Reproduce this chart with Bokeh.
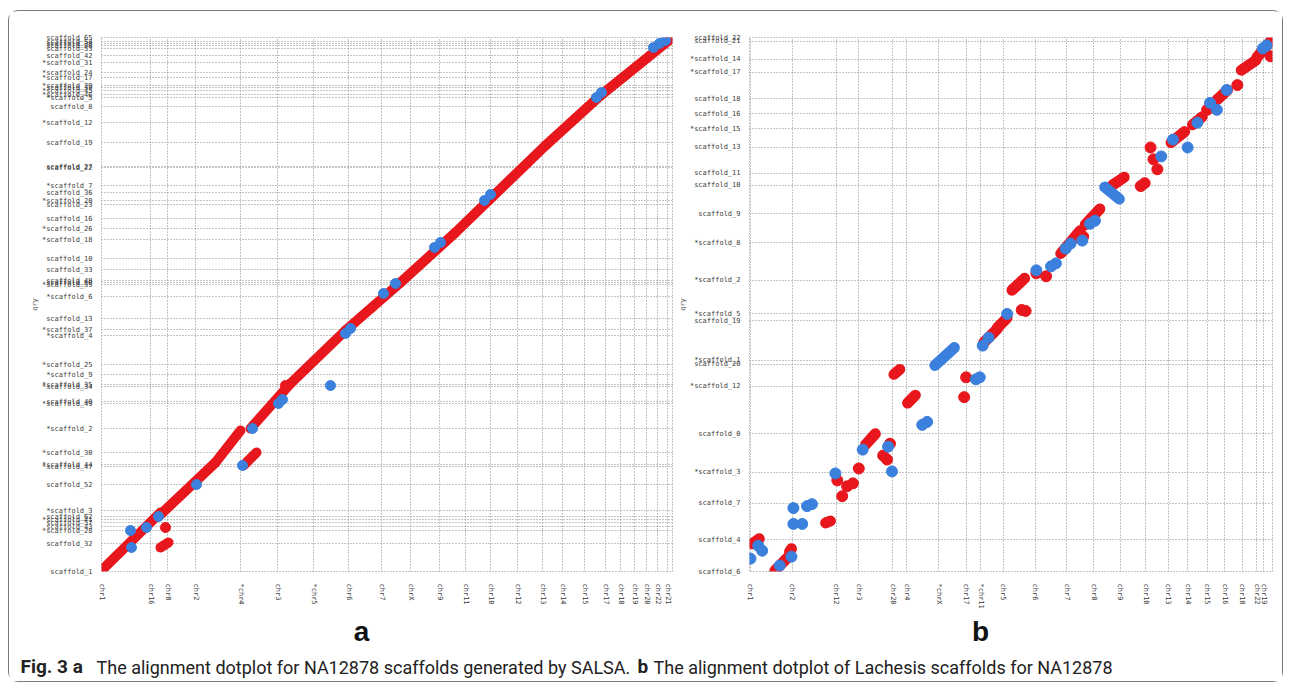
from bokeh.plotting import figure
from bokeh.layouts import column, row
from bokeh.models import Range1d, FixedTicker, Label, Spacer
from bokeh.embed import file_html
from bokeh.resources import INLINE

# ---------------- data: panel a (SALSA) ----------------
# reference sequence starts (x) and query scaffold starts (y), in plot units
a_x_ticks = [0, 49, 66, 94, 139, 176, 212, 247, 280, 309, 338, 364, 389, 416, 441, 461, 483, 504, 519, 533, 545, 556, 566]
a_x_labels = ["chr1", "chr16", "chr8", "chr2", "*chr4", "chr3", "*chr5", "chr6", "chr7", "chrX", "chr9", "chr11",
              "chr10", "chr12", "chr13", "chr14", "chr15", "chr17", "chr18", "chr19", "chr20", "chr22", "chr21"]
a_y_ticks = [0, 28, 41, 45, 49, 52, 55, 61, 87, 105, 107, 119, 143, 168, 170, 185, 187, 197, 207, 236, 242, 253,
             275, 287, 289, 291, 302, 313, 332, 343, 353, 367, 371, 379, 386, 404, 405, 429, 449, 465, 474, 477,
             481, 484, 486, 494, 499, 509, 516, 523, 526, 528, 530, 534]
a_y_labels = ["scaffold_1", "scaffold_32", "*scaffold_28", "scaffold_43", "scaffold_57", "*scaffold_41", "scaffold_62",
              "*scaffold_3", "scaffold_52", "*scaffold_47", "*scaffold_44", "*scaffold_30", "*scaffold_2", "*scaffold_49",
              "scaffold_40", "*scaffold_34", "*scaffold_35", "*scaffold_9", "*scaffold_25", "*scaffold_4", "*scaffold_37",
              "scaffold_13", "*scaffold_6", "*scaffold_55", "scaffold_50", "scaffold_48", "scaffold_33", "scaffold_10",
              "*scaffold_18", "*scaffold_26", "scaffold_16", "scaffold_23", "*scaffold_20", "scaffold_36", "*scaffold_7",
              "scaffold_22", "scaffold_27", "scaffold_19", "*scaffold_12", "scaffold_8", "*scaffold_5", "*scaffold_46",
              "*scaffold_45", "scaffold_39", "*scaffold_29", "*scaffold_17", "*scaffold_24", "*scaffold_31", "scaffold_42",
              "scaffold_53", "scaffold_58", "scaffold_38", "scaffold_54", "scaffold_65"]
a_x_max, a_y_max = 571, 534

# forward alignments (red): start/end of each aligned block
a_red_x0 = [0, 59, 114, 142, 149, 189, 244, 299, 354, 444, 499, 59]
a_red_y0 = [1, 57, 109, 106, 143, 188, 241, 289, 339, 426, 476, 24]
a_red_x1 = [59, 114, 139, 155, 189, 244, 299, 354, 444, 499, 571, 67]
a_red_y1 = [59, 109, 141, 119, 188, 241, 289, 339, 426, 476, 534, 29]
a_red_px = [64, 184]
a_red_py = [44, 186]
# reverse alignments (blue)
a_blue_x = [29, 30, 45, 57, 95, 141, 151, 177, 181, 229, 244, 249, 282, 294, 333, 339, 383, 389, 495, 500, 552, 558, 564]
a_blue_y = [41, 24, 44, 55, 87, 106, 143, 168, 172, 186, 238, 243, 278, 288, 324, 329, 371, 377, 474, 479, 524, 528, 531]

# ---------------- data: panel b (Lachesis) ----------------
b_x_ticks = [1, 44, 89, 112, 147, 161, 194, 222, 237, 260, 293, 325, 353, 380, 406, 429, 449, 469, 487, 505, 520, 527]
b_x_labels = ["chr1", "chr2", "chr12", "chr3", "chr20", "chr4", "*chrX", "chr17", "*chr11", "chr5", "chr6", "chr7",
              "chr8", "chr9", "chr10", "chr13", "chr14", "chr15", "chr16", "chr18", "chr22", "chr19"]
b_y_ticks = [0, 32, 69, 100, 139, 187, 209, 213, 253, 260, 294, 332, 361, 390, 402, 428, 447, 462, 477, 504, 517, 535, 539]
b_y_labels = ["scaffold_6", "scaffold_4", "scaffold_7", "*scaffold_3", "scaffold_0", "*scaffold_12", "scaffold_20",
              "*scaffold_1", "scaffold_19", "*scaffold_5", "*scaffold_2", "*scaffold_8", "scaffold_9", "scaffold_10",
              "scaffold_11", "scaffold_13", "*scaffold_15", "scaffold_16", "scaffold_18", "*scaffold_17", "*scaffold_14",
              "scaffold_21", "scaffold_22"]
b_x_max, b_y_max = 536, 539

b_red_x0 = [3, 26, 41, 78, 119, 148, 162, 240, 254, 269, 319, 344, 372, 432, 454, 479, 504, 520]
b_red_y0 = [28, 1, 20, 49, 128, 199, 170, 231, 246, 284, 321, 350, 390, 433, 451, 476, 506, 519]
b_red_x1 = [10, 39, 43, 83, 129, 154, 170, 254, 264, 282, 339, 359, 384, 446, 464, 490, 519, 534]
b_red_y1 = [33, 14, 23, 51, 139, 204, 178, 245, 256, 296, 344, 366, 398, 444, 459, 486, 516, 535]
b_red_px = [90, 95, 100, 106, 112, 137, 141, 144, 222, 220, 279, 283, 294, 304, 342, 401, 405, 411, 414, 418, 469, 500, 534]
b_red_py = [92, 76, 86, 89, 104, 117, 113, 129, 196, 176, 264, 263, 301, 298, 338, 389, 392, 428, 416, 406, 466, 491, 520]
b_blue_x0 = [190, 364]
b_blue_y0 = [208, 388]
b_blue_x1 = [210, 379]
b_blue_y1 = [226, 376]
b_blue_x = [1, 9, 13, 31, 43, 45, 45, 54, 59, 64, 88, 116, 142, 146, 177, 182, 232, 236, 239, 245, 264, 294, 309, 314,
            324, 329, 341, 349, 354, 422, 434, 449, 459, 472, 479, 489, 526, 530]
b_blue_y = [13, 26, 21, 6, 15, 48, 64, 48, 66, 68, 99, 123, 126, 101, 148, 151, 194, 196, 228, 236, 260, 304, 308, 311,
            326, 331, 334, 351, 354, 419, 436, 428, 453, 473, 466, 486, 528, 531]

RED = "#e8161d"
BLUE = "#3b80dc"
GRID = "#8a8a8a"
MONO = "DejaVu Sans Mono"


def style_panel(p, xt, xl, yt, yl):
    p.xaxis.ticker = FixedTicker(ticks=xt, minor_ticks=[])
    p.yaxis.ticker = FixedTicker(ticks=yt, minor_ticks=[])
    p.xaxis.major_label_overrides = {t: l for t, l in zip(xt, xl)}
    p.yaxis.major_label_overrides = {t: l for t, l in zip(yt, yl)}
    p.xaxis.major_label_orientation = "vertical"
    for ax in (p.xaxis[0], p.yaxis[0]):
        ax.axis_line_color = None
        ax.major_tick_line_color = None
        ax.minor_tick_line_color = None
        ax.major_label_text_font = MONO
        ax.major_label_text_font_size = "7px"
        ax.major_label_text_color = "#3a3a3a"
    p.xaxis.major_label_standoff = 6
    p.yaxis.major_label_standoff = 3
    p.yaxis.axis_label = "qry"
    p.yaxis.axis_label_text_font = MONO
    p.yaxis.axis_label_text_font_size = "7px"
    p.yaxis.axis_label_text_font_style = "normal"
    p.yaxis.axis_label_text_color = "#555555"
    p.yaxis.axis_label_standoff = 0
    for g in (p.xgrid[0], p.ygrid[0]):
        g.grid_line_color = GRID
        g.grid_line_dash = "1 2"
        g.grid_line_width = 1
    p.outline_line_color = GRID
    p.outline_line_dash = "1 2"
    p.background_fill_color = "white"
    p.border_fill_color = "white"


pa = figure(width=666, height=600, output_backend="svg", toolbar_location=None,
            x_range=Range1d(0, a_x_max), y_range=Range1d(0, a_y_max),
            min_border_left=92, min_border_right=3, min_border_top=26, min_border_bottom=40)
style_panel(pa, a_x_ticks, a_x_labels, a_y_ticks, a_y_labels)
pa.segment(a_red_x0, a_red_y0, a_red_x1, a_red_y1, line_color=RED, line_width=10, line_cap="round")
pa.scatter(a_red_px, a_red_py, size=10, color=RED)
pa.scatter(a_blue_x, a_blue_y, size=10, color=BLUE)

pb = figure(width=607, height=600, output_backend="svg", toolbar_location=None,
            x_range=Range1d(0, b_x_max), y_range=Range1d(0, b_y_max),
            min_border_left=61, min_border_right=10, min_border_top=26, min_border_bottom=35)
style_panel(pb, b_x_ticks, b_x_labels, b_y_ticks, b_y_labels)
pb.segment(b_red_x0, b_red_y0, b_red_x1, b_red_y1, line_color=RED, line_width=11, line_cap="round")
pb.segment(b_blue_x0, b_blue_y0, b_blue_x1, b_blue_y1, line_color=BLUE, line_width=11, line_cap="round")
pb.scatter(b_red_px, b_red_py, size=11, color=RED)
pb.scatter(b_blue_x, b_blue_y, size=11, color=BLUE)

# caption strip
pc = figure(width=1273, height=70, output_backend="svg", toolbar_location=None,
            x_range=Range1d(0, 1273), y_range=Range1d(0, 70),
            min_border=0, min_border_left=0, min_border_right=0, min_border_top=0, min_border_bottom=0)
pc.axis.visible = False
pc.grid.visible = False
pc.outline_line_color = None
pc.border_fill_color = "white"
pc.background_fill_color = "white"

SANS = "Roboto"
CAP = "18px"
pc.add_layout(Label(x=352, y=35, x_units="screen", y_units="screen", text="a", text_font="Liberation Sans",
                    text_font_size="28px", text_font_style="bold", text_align="center", text_color="#111111"))
pc.add_layout(Label(x=971, y=35, x_units="screen", y_units="screen", text="b", text_font="Liberation Sans",
                    text_font_size="28px", text_font_style="bold", text_align="center", text_color="#111111"))
pc.add_layout(Label(x=11, y=4, x_units="screen", y_units="screen", text="Fig. 3 a", text_font=SANS,
                    text_font_size="19px", text_font_style="bold", text_color="#222222"))
pc.add_layout(Label(x=87, y=4, x_units="screen", y_units="screen",
                    text="The alignment dotplot for NA12878 scaffolds generated by SALSA.", text_font=SANS,
                    text_font_size=CAP, text_color="#222222"))
pc.add_layout(Label(x=628, y=4, x_units="screen", y_units="screen", text="b", text_font=SANS,
                    text_font_size="19px", text_font_style="bold", text_color="#222222"))
pc.add_layout(Label(x=644, y=4, x_units="screen", y_units="screen",
                    text="The alignment dotplot of Lachesis scaffolds for NA12878", text_font=SANS,
                    text_font_size=CAP, text_color="#222222"))

inner = column(row(pa, pb), pc,
               styles={"border": "1px solid #7a7a7a", "border-radius": "10px", "background-color": "white"})
layout = column(Spacer(height=10, width=10), row(Spacer(width=8, height=10), inner))

open("out.html", "w").write(file_html(layout, INLINE))
